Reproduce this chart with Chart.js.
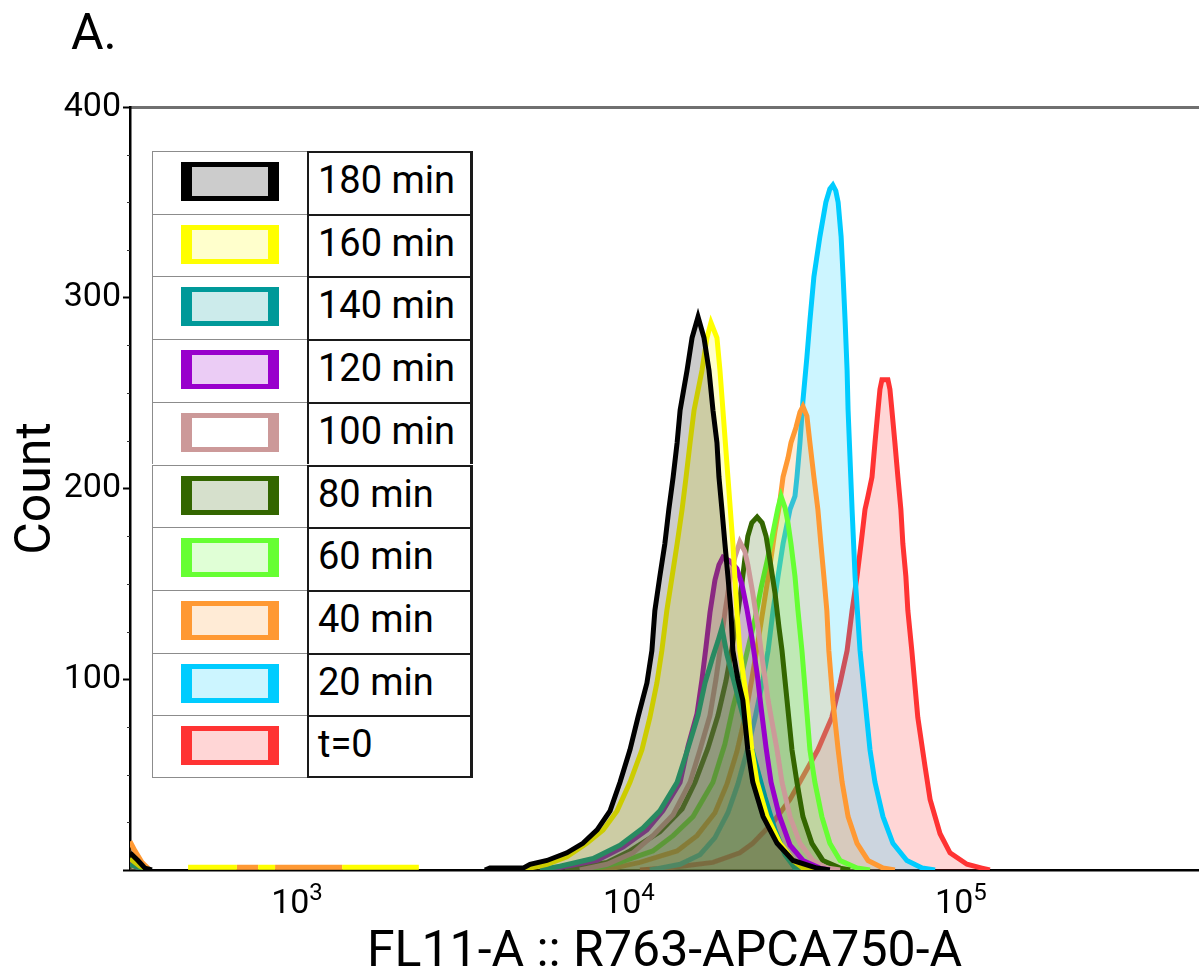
<!DOCTYPE html>
<html>
<head>
<meta charset="utf-8">
<script src="https://cdn.jsdelivr.net/npm/chart.js@4.4.1/dist/chart.umd.min.js"></script>
<style>
  html, body { margin: 0; padding: 0; background: #ffffff; }
  #wrap { position: relative; width: 1199px; height: 974px; overflow: hidden; font-family: Roboto, "Noto Sans", sans-serif; }
  #chart { position: absolute; left: 0; top: 0; }
  #panel { position: absolute; left: 71px; top: 7px; font-size: 50px; line-height: 50px; color: #000; }
  .cellL { position: absolute; box-sizing: border-box; border: 1px solid #8c8c8c; border-bottom: none; border-right: none; background: #fff; }
  .cellR { position: absolute; box-sizing: border-box; border: 2px solid #1a1a1a; border-bottom: none; border-right-width: 3px; background: #fff;
           font-size: 38px; color: #000; padding-left: 9px; }
  .swatch { position: absolute; box-sizing: border-box; border-style: solid; border-width: 5px 11px; }
</style>
</head>
<body>
<div id="wrap">
  <canvas id="chart" width="1199" height="974"></canvas>
  <div id="panel">A.</div>
  <div id="legend"></div>
</div>
<script>
// ---- data (x values stored as log10 of fluorescence, y = count) ----
const seriesLabels = ['180 min', '160 min', '140 min', '120 min', '100 min', '80 min', '60 min', '40 min', '20 min', 't=0'];
const lineColors = ['#000000', '#ffff00', '#009999', '#9900cc', '#cc9999', '#336600', '#66ff33', '#ff9933', '#00ccff', '#ff3333'];
const fillColors = ['rgba(0,0,0,0.2)', 'rgba(255,255,0,0.2)', 'rgba(0,153,153,0.2)', 'rgba(153,0,204,0.2)', 'rgba(204,153,153,0)',
                    'rgba(51,102,0,0.2)', 'rgba(102,255,51,0.2)', 'rgba(255,153,51,0.2)', 'rgba(0,204,255,0.2)', 'rgba(255,51,51,0.2)'];

const s180 = [[2.497,9],[2.521,5],[2.542,1],[2.563,0],[2.6,null],
  [3.566,0],[3.581,1],[3.681,1],[3.702,3],[3.753,5],[3.813,9],[3.861,14],[3.904,21],[3.943,31],[3.973,46],[4.003,63],
  [4.027,80],[4.054,98],[4.069,115],[4.078,136],[4.093,154],[4.108,171],[4.120,189],[4.133,206],[4.145,224],[4.154,241],
  [4.175,262],[4.190,279],[4.208,290],[4.226,279],[4.241,262],[4.253,241],[4.265,224],[4.271,206],[4.280,189],[4.289,171],
  [4.298,154],[4.307,136],[4.313,115],[4.328,100],[4.343,89],[4.358,63],[4.373,46],[4.404,28],[4.446,14],[4.494,5],[4.566,1],[4.605,0]];
const s160 = [[2.497,6],[2.527,2],[2.557,0],[2.6,null],
  [2.672,1.5],[2.819,1.5],[2.85,null],[2.883,1.5],[2.934,1.5],[3.0,null],[3.136,1.5],[3.367,1.5],[3.4,null],
  [3.687,0],[3.702,1],[3.753,3],[3.813,7],[3.873,14],[3.922,21],[3.964,31],[4.003,46],[4.039,63],[4.063,80],[4.084,98],
  [4.099,115],[4.114,136],[4.130,154],[4.145,171],[4.160,189],[4.172,206],[4.184,224],[4.196,241],[4.220,262],[4.235,279],
  [4.247,287],[4.265,279],[4.274,262],[4.283,241],[4.298,206],[4.313,171],[4.325,136],[4.334,115],[4.355,89],[4.370,63],
  [4.386,46],[4.416,28],[4.455,14],[4.494,5],[4.524,1],[4.560,0]];
const s140 = [[2.497,3],[2.527,1],[2.551,0],[2.6,null],
  [3.732,0],[3.792,2],[3.892,6],[3.973,13],[4.042,22],[4.093,31],[4.145,46],[4.178,64],[4.208,81],[4.229,98],[4.253,112],
  [4.268,120],[4.280,127],[4.295,113],[4.319,97],[4.349,77],[4.380,57],[4.410,38],[4.440,21],[4.470,8],[4.500,1],[4.530,0]];
const s120 = [[2.497,4],[2.521,1],[2.542,0],[2.6,null],
  [3.732,0],[3.783,1],[3.904,5],[3.982,12],[4.054,21],[4.102,31],[4.154,46],[4.178,65],[4.205,82],[4.220,100],[4.232,117],
  [4.244,135],[4.259,152],[4.271,160],[4.283,164],[4.304,162],[4.325,158],[4.340,150],[4.355,137],[4.370,122],[4.386,103],
  [4.398,85],[4.413,64],[4.428,46],[4.452,29],[4.485,13],[4.524,5],[4.575,1],[4.605,0]];
const s100 = [[3.852,0],[3.934,3],[4.012,9],[4.072,18],[4.133,29],[4.184,46],[4.214,63],[4.244,81],[4.262,100],[4.274,115],
  [4.289,135],[4.304,152],[4.319,164],[4.334,172],[4.349,167],[4.358,160],[4.373,145],[4.389,127],[4.398,115],[4.419,89],
  [4.446,63],[4.461,46],[4.485,28],[4.515,14],[4.554,5],[4.596,1],[4.636,0]];
const s80 = [[3.807,0],[3.867,2],[3.934,4],[4.003,10],[4.093,20],[4.160,32],[4.199,46],[4.238,64],[4.268,81],[4.292,99],
  [4.310,116],[4.328,135],[4.340,150],[4.349,163],[4.358,175],[4.370,182],[4.386,185],[4.401,182],[4.413,175],[4.425,162],
  [4.440,145],[4.452,127],[4.461,115],[4.476,89],[4.491,63],[4.506,46],[4.524,28],[4.551,14],[4.584,5],[4.636,1],[4.666,0]];
const s60 = [[3.867,0],[3.904,1],[3.973,4],[4.072,10],[4.133,18],[4.193,28],[4.253,46],[4.289,66],[4.313,85],[4.340,103],
  [4.361,118],[4.380,132],[4.398,148],[4.416,162],[4.434,177],[4.449,190],[4.458,196],[4.470,190],[4.479,182],[4.488,171],
  [4.500,154],[4.509,136],[4.521,115],[4.533,89],[4.545,63],[4.560,46],[4.581,28],[4.605,14],[4.636,5],[4.687,1],[4.726,0]];
const s40 = [[2.497,15],[2.512,10],[2.533,4],[2.557,0],[2.6,null],
  [2.819,1.5],[2.883,1.5],[2.9,null],[2.934,1.5],[3.136,1.5],[3.15,null],
  [3.913,0],[3.952,1],[4.033,4],[4.145,10],[4.205,18],[4.259,30],[4.295,45],[4.325,62],[4.349,80],[4.370,100],[4.389,120],
  [4.407,140],[4.425,160],[4.440,178],[4.452,190],[4.464,206],[4.479,216],[4.488,224],[4.503,232],[4.515,240],[4.524,243],
  [4.536,238],[4.545,224],[4.557,206],[4.569,189],[4.578,171],[4.587,154],[4.596,136],[4.602,115],[4.614,89],[4.630,63],
  [4.642,46],[4.660,28],[4.687,14],[4.720,5],[4.765,1],[4.801,0]];
const s20 = [[4.063,0],[4.093,1],[4.154,3],[4.214,8],[4.259,17],[4.298,30],[4.328,45],[4.355,62],[4.380,80],[4.404,100],
  [4.419,115],[4.434,136],[4.449,154],[4.464,171],[4.485,189],[4.500,196],[4.506,206],[4.515,224],[4.524,246],[4.536,269],
  [4.545,288],[4.557,311],[4.575,332],[4.593,350],[4.605,357],[4.614,359],[4.623,356],[4.630,350],[4.639,332],[4.645,311],
  [4.651,288],[4.657,262],[4.660,241],[4.672,189],[4.681,154],[4.696,115],[4.711,89],[4.726,63],[4.741,46],[4.765,28],
  [4.795,14],[4.837,5],[4.883,1],[4.922,0]];
const s0 = [[4.033,0],[4.114,1],[4.253,4],[4.334,9],[4.373,14],[4.434,25],[4.485,37],[4.524,49],[4.569,63],[4.611,80],
  [4.636,98],[4.657,115],[4.672,136],[4.687,154],[4.699,171],[4.711,189],[4.720,196],[4.732,206],[4.741,224],[4.750,241],
  [4.756,252],[4.762,257],[4.780,257],[4.786,252],[4.792,241],[4.801,224],[4.810,206],[4.819,189],[4.825,171],[4.834,154],
  [4.840,136],[4.852,115],[4.870,80],[4.892,54],[4.907,37],[4.937,19],[4.967,9],[5.018,3],[5.063,1],[5.087,0]];
const seriesData = [s180, s160, s140, s120, s100, s80, s60, s40, s20, s0];

const xLogMin = 2.497, xLogMax = 5.717;
const xTickValues = [1e3, 1e4, 1e5];
const xTickBase = '10';
const xTickExponents = ['3', '4', '5'];
const yMax = 400, yMinorStep = 25, yMajorStep = 100;

// ---- chart ----
const FONT = 'Roboto, "Noto Sans", sans-serif';
Chart.defaults.font.family = FONT;
const datasets = seriesData.map((pts, i) => ({
  label: seriesLabels[i],
  data: pts.map(([l, c]) => ({ x: Math.pow(10, l), y: c })),
  borderColor: lineColors[i],
  backgroundColor: fillColors[i],
  borderWidth: 5,
  fill: 'origin',
  pointRadius: 0,
  tension: 0,
  spanGaps: false
}));

// power-of-ten tick labels with a raised exponent, and short minor ticks on the count axis
const axisDecor = {
  id: 'axisDecor',
  afterDraw(chart) {
    const ctx = chart.ctx, sx = chart.scales.x, sy = chart.scales.y;
    ctx.save();
    ctx.fillStyle = '#000';
    ctx.textBaseline = 'alphabetic';
    ctx.textAlign = 'left';
    xTickValues.forEach((v, k) => {
      const px = sx.getPixelForValue(v);
      ctx.font = '34px ' + FONT;
      const wb = ctx.measureText(xTickBase).width;
      ctx.font = '24px ' + FONT;
      const we = ctx.measureText(xTickExponents[k]).width;
      const x0 = px - (wb + we) / 2;
      ctx.font = '34px ' + FONT;
      ctx.fillText(xTickBase, x0, sx.top + 43);
      ctx.font = '24px ' + FONT;
      ctx.fillText(xTickExponents[k], x0 + wb, sx.top + 30);
    });
    ctx.strokeStyle = '#333';
    ctx.lineWidth = 1;
    for (let v = yMinorStep; v < yMax; v += yMinorStep) {
      if (v % yMajorStep === 0) continue;
      const py = Math.round(sy.getPixelForValue(v)) + 0.5;
      ctx.beginPath();
      ctx.moveTo(sy.right - 3, py);
      ctx.lineTo(sy.right, py);
      ctx.stroke();
    }
    ctx.restore();
  }
};

new Chart(document.getElementById('chart'), {
  type: 'line',
  data: { datasets },
  plugins: [axisDecor],
  options: {
    responsive: false,
    animation: false,
    events: [],
    layout: { padding: { top: 107, left: 0, right: 0, bottom: 0 } },
    plugins: { legend: { display: false }, tooltip: { enabled: false } },
    scales: {
      x: {
        type: 'logarithmic', position: 'bottom',
        min: Math.pow(10, xLogMin), max: Math.pow(10, xLogMax),
        afterBuildTicks: s => { s.ticks = xTickValues.map(v => ({ value: v })); },
        afterFit: s => { s.height = 104; },
        ticks: { display: true, autoSkip: false, maxRotation: 0, color: 'rgba(0,0,0,0)', callback: () => '' },
        grid: { display: false },
        border: { display: true, color: '#000', width: 2.5 },
        title: { display: true, text: 'FL11-A :: R763-APCA750-A', color: '#000', font: { size: 50, lineHeight: 1 }, padding: { top: 0, bottom: -4 } }
      },
      xTop: {
        type: 'logarithmic', position: 'top',
        min: Math.pow(10, xLogMin), max: Math.pow(10, xLogMax),
        afterFit: s => { s.height = 0; },
        ticks: { display: false },
        grid: { display: false },
        border: { display: true, color: '#707070', width: 3 }
      },
      y: {
        type: 'linear', position: 'left', min: 0, max: yMax,
        afterFit: s => { s.width = 130; },
        ticks: { stepSize: yMajorStep, autoSkip: false, padding: 2, color: '#000', font: { size: 34 },
                 callback: v => (v > 0) ? String(v) : '' },
        grid: { drawOnChartArea: false, drawTicks: true, tickLength: 7, tickColor: '#000', tickWidth: 2 },
        border: { display: true, color: '#000', width: 2.5 },
        title: { display: true, text: 'Count', color: '#000', font: { size: 50, lineHeight: 1 }, padding: { top: 12, bottom: 0 } }
      }
    }
  }
});

// ---- legend table (built from the same label / colour arrays) ----
const legendEl = document.getElementById('legend');
const rowTop = 151, rowH = 62.7, colL = 152, colM = 307, colR = 473;
seriesLabels.forEach((lab, i) => {
  const top = rowTop + i * rowH;
  const last = i === seriesLabels.length - 1;
  const l = document.createElement('div');
  l.className = 'cellL';
  Object.assign(l.style, { left: colL + 'px', top: top + 'px', width: (colM - colL) + 'px', height: rowH + 'px' });
  if (last) l.style.borderBottom = '1px solid #8c8c8c';
  const sw = document.createElement('div');
  sw.className = 'swatch';
  Object.assign(sw.style, { left: (181 - colL - 1) + 'px', top: '10px', width: '98px', height: '39px',
                            borderColor: lineColors[i], background: fillColors[i] });
  l.appendChild(sw);
  const r = document.createElement('div');
  r.className = 'cellR';
  Object.assign(r.style, { left: colM + 'px', top: top + 'px', width: (colR - colM) + 'px', height: rowH + 'px', lineHeight: '54px' });
  if (last) r.style.borderBottom = '2px solid #1a1a1a';
  r.textContent = lab;
  legendEl.appendChild(l);
  legendEl.appendChild(r);
});
</script>
</body>
</html>
